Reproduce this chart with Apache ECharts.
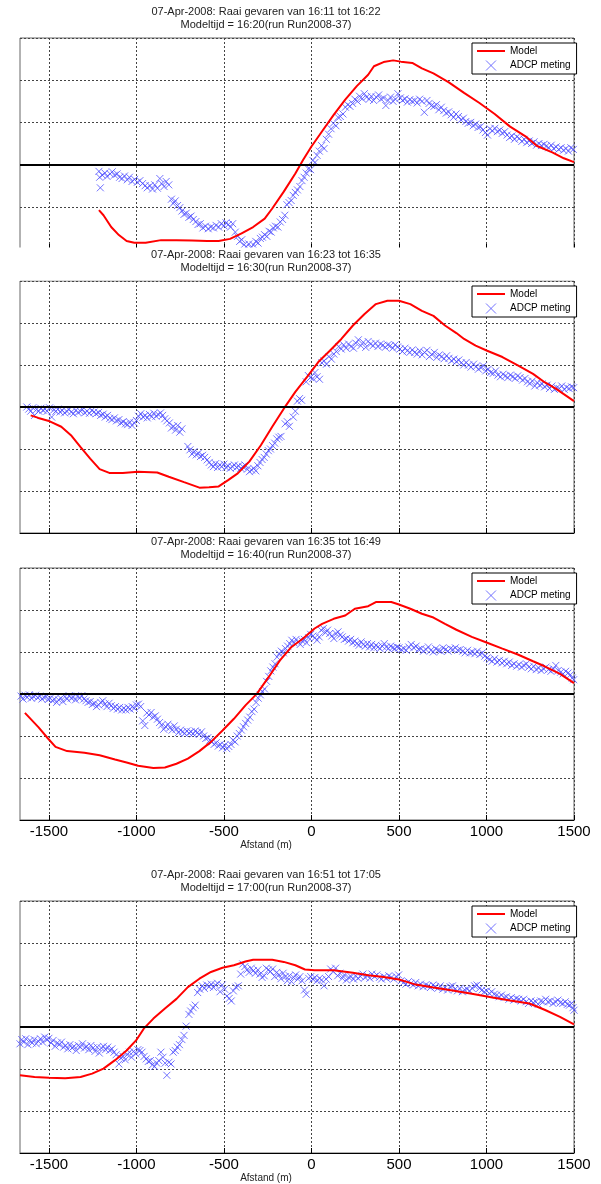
<!DOCTYPE html>
<html><head><meta charset="utf-8">
<script src="https://cdn.jsdelivr.net/npm/echarts@6/dist/echarts.min.js"></script>
<style>html,body{margin:0;padding:0;background:#fff}#c{width:601px;height:1184px}</style>
</head><body><div id="c"></div><script>
const xTicks = [-1500,-1000,-500,0,500,1000,1500];
const titleLine1 = [
  '07-Apr-2008: Raai gevaren van 16:11 tot 16:22',
  '07-Apr-2008: Raai gevaren van 16:23 tot 16:35',
  '07-Apr-2008: Raai gevaren van 16:35 tot 16:49',
  '07-Apr-2008: Raai gevaren van 16:51 tot 17:05'
];
const titleLine2 = [
  'Modeltijd = 16:20(run Run2008-37)',
  'Modeltijd = 16:30(run Run2008-37)',
  'Modeltijd = 16:40(run Run2008-37)',
  'Modeltijd = 17:00(run Run2008-37)'
];
const xLabel = 'Afstand (m)';
const legendNames = ['Model','ADCP meting'];

const model1 = [[-1214,-1.08],[-1188,-1.2],[-1144,-1.48],[-1100,-1.67],[-1056,-1.81],[-1012,-1.85],[-947,-1.85],[-859,-1.79],[-771,-1.79],[-684,-1.8],[-596,-1.81],[-530,-1.81],[-465,-1.76],[-399,-1.63],[-333,-1.48],[-267,-1.28],[-224,-1.04],[-158,-0.64],[-92,-0.21],[-48,0.11],[0,0.43],[61,0.79],[127,1.18],[193,1.54],[259,1.86],[324,2.13],[357,2.33],[412,2.43],[467,2.47],[511,2.44],[576,2.41],[631,2.28],[697,2.16],[785,1.95],[872,1.7],[960,1.46],[1047,1.2],[1135,0.9],[1223,0.67],[1289,0.44],[1376,0.29],[1442,0.15],[1500,0.06]];
const model2 = [[-1604,-0.2],[-1560,-0.26],[-1495,-0.34],[-1429,-0.47],[-1374,-0.67],[-1320,-0.95],[-1264,-1.23],[-1210,-1.48],[-1155,-1.57],[-1078,-1.57],[-991,-1.54],[-881,-1.56],[-815,-1.66],[-728,-1.79],[-640,-1.92],[-585,-1.91],[-530,-1.89],[-476,-1.74],[-421,-1.58],[-355,-1.3],[-289,-0.91],[-224,-0.47],[-158,-0.04],[-92,0.36],[-26,0.71],[39,1.07],[105,1.34],[171,1.62],[237,1.94],[302,2.21],[368,2.45],[434,2.53],[500,2.53],[565,2.45],[631,2.29],[697,2.17],[763,1.94],[828,1.76],[872,1.62],[938,1.46],[1004,1.34],[1091,1.19],[1179,0.99],[1266,0.79],[1332,0.59],[1398,0.43],[1500,0.14]];
const model3 = [[-1637,-0.45],[-1560,-0.79],[-1505,-1.06],[-1462,-1.26],[-1396,-1.36],[-1297,-1.4],[-1210,-1.46],[-1122,-1.56],[-1056,-1.63],[-990,-1.71],[-903,-1.76],[-837,-1.75],[-771,-1.66],[-706,-1.54],[-640,-1.36],[-574,-1.14],[-508,-0.87],[-443,-0.59],[-377,-0.27],[-311,0.01],[-245,0.4],[-180,0.8],[-114,1.12],[-48,1.32],[18,1.56],[61,1.67],[127,1.79],[193,1.87],[248,2.03],[324,2.09],[368,2.19],[456,2.19],[500,2.13],[565,2.03],[631,1.91],[697,1.82],[763,1.67],[828,1.53],[916,1.36],[1004,1.22],[1091,1.08],[1179,0.94],[1266,0.78],[1332,0.66],[1420,0.48],[1500,0.26]];
const model4 = [[-1665,-1.15],[-1582,-1.19],[-1499,-1.21],[-1407,-1.22],[-1319,-1.19],[-1253,-1.11],[-1188,-0.99],[-1122,-0.79],[-1056,-0.56],[-1002,-0.32],[-958,-0.04],[-903,0.2],[-837,0.44],[-771,0.67],[-706,0.95],[-640,1.15],[-574,1.31],[-508,1.41],[-443,1.47],[-377,1.56],[-333,1.6],[-224,1.6],[-158,1.55],[-92,1.47],[-37,1.37],[18,1.35],[127,1.35],[237,1.29],[324,1.23],[412,1.19],[500,1.13],[587,1.02],[697,0.94],[806,0.87],[916,0.79],[1026,0.71],[1135,0.63],[1245,0.56],[1332,0.41],[1420,0.24],[1500,0.06]];

const adcp1 = [[-1214,-0.16],[-1210,-0.3],[-1206,-0.55],[-1195,-0.25],[-1180,-0.2],[-1168,-0.28],[-1150,-0.22],[-1138,-0.17],[-1125,-0.25],[-1110,-0.22],[-1096,-0.3],[-1082,-0.33],[-1068,-0.27],[-1052,-0.36],[-1040,-0.3],[-1025,-0.4],[-1010,-0.35],[-995,-0.42],[-980,-0.38],[-965,-0.45],[-950,-0.5],[-938,-0.55],[-922,-0.5],[-908,-0.58],[-895,-0.48],[-880,-0.56],[-866,-0.33],[-855,-0.45],[-842,-0.52],[-830,-0.4],[-815,-0.48],[-800,-0.82],[-790,-0.92],[-778,-0.86],[-765,-0.97],[-752,-1.02],[-740,-1.1],[-728,-1.18],[-715,-1.15],[-700,-1.25],[-688,-1.22],[-675,-1.3],[-660,-1.35],[-648,-1.42],[-635,-1.4],[-620,-1.5],[-605,-1.46],[-590,-1.52],[-575,-1.48],[-560,-1.5],[-545,-1.44],[-530,-1.48],[-515,-1.4],[-500,-1.45],[-488,-1.38],[-475,-1.42],[-462,-1.48],[-450,-1.4],[-435,-1.6],[-422,-1.7],[-410,-1.82],[-398,-1.78],[-385,-1.9],[-372,-1.95],[-358,-1.88],[-345,-1.97],[-332,-1.9],[-318,-1.82],[-305,-1.86],[-292,-1.75],[-280,-1.72],[-268,-1.66],[-255,-1.7],[-242,-1.58],[-230,-1.6],[-218,-1.5],[-205,-1.46],[-192,-1.48],[-178,-1.36],[-165,-1.3],[-152,-1.2],[-140,-0.95],[-128,-0.9],[-116,-0.85],[-104,-0.73],[-92,-0.66],[-80,-0.6],[-66,-0.52],[-54,-0.38],[-42,-0.3],[-30,-0.2],[-18,-0.1],[-5,-0.12],[8,0.1],[20,0.05],[32,0.22],[45,0.32],[58,0.45],[72,0.38],[85,0.6],[98,0.72],[112,0.85],[125,0.98],[140,0.92],[152,1.12],[165,1.14],[180,1.2],[194,1.36],[208,1.42],[220,1.38],[235,1.45],[248,1.55],[262,1.5],[275,1.62],[290,1.56],[302,1.68],[315,1.6],[330,1.55],[342,1.62],[355,1.52],[370,1.6],[384,1.65],[398,1.55],[412,1.58],[425,1.4],[438,1.52],[452,1.6],[466,1.5],[480,1.55],[494,1.68],[508,1.58],[520,1.52],[535,1.56],[548,1.48],[562,1.54],[575,1.5],[590,1.52],[604,1.46],[618,1.55],[632,1.5],[645,1.24],[660,1.52],[672,1.45],[686,1.4],[700,1.38],[714,1.42],[728,1.3],[742,1.36],[756,1.28],[770,1.22],[784,1.25],[798,1.18],[812,1.12],[826,1.2],[840,1.14],[854,1.06],[868,1.1],[882,1.02],[896,0.98],[910,1.0],[924,0.92],[938,0.96],[952,0.88],[966,0.9],[980,0.82],[994,0.76],[1006,0.7],[1020,0.85],[1034,0.8],[1048,0.86],[1062,0.78],[1076,0.82],[1090,0.74],[1104,0.78],[1118,0.7],[1132,0.64],[1146,0.68],[1160,0.6],[1174,0.66],[1188,0.62],[1202,0.55],[1216,0.6],[1230,0.52],[1244,0.56],[1258,0.5],[1272,0.54],[1286,0.46],[1300,0.5],[1314,0.45],[1328,0.48],[1342,0.44],[1356,0.4],[1370,0.46],[1384,0.38],[1398,0.42],[1412,0.36],[1426,0.4],[1440,0.34],[1454,0.38],[1468,0.32],[1482,0.4],[1496,0.36]];
const adcp2 = [[-1626,0.0],[-1615,-0.05],[-1604,-0.1],[-1592,-0.02],[-1582,-0.2],[-1570,-0.06],[-1558,-0.1],[-1546,-0.03],[-1534,-0.08],[-1522,-0.05],[-1510,-0.1],[-1496,-0.02],[-1484,-0.24],[-1472,-0.07],[-1460,-0.1],[-1448,-0.05],[-1436,-0.12],[-1424,-0.08],[-1410,-0.14],[-1398,-0.1],[-1385,-0.06],[-1372,-0.12],[-1360,-0.16],[-1346,-0.08],[-1334,-0.13],[-1320,-0.1],[-1308,-0.06],[-1295,-0.14],[-1282,-0.1],[-1268,-0.15],[-1255,-0.08],[-1242,-0.12],[-1230,-0.16],[-1216,-0.13],[-1204,-0.2],[-1190,-0.17],[-1178,-0.24],[-1165,-0.2],[-1152,-0.27],[-1140,-0.3],[-1126,-0.26],[-1114,-0.33],[-1100,-0.3],[-1088,-0.38],[-1075,-0.35],[-1062,-0.4],[-1050,-0.42],[-1038,-0.36],[-1025,-0.44],[-1012,-0.38],[-1000,-0.32],[-988,-0.22],[-975,-0.16],[-962,-0.24],[-950,-0.2],[-938,-0.26],[-925,-0.18],[-912,-0.23],[-900,-0.15],[-888,-0.22],[-875,-0.18],[-862,-0.14],[-850,-0.2],[-838,-0.28],[-826,-0.33],[-812,-0.38],[-800,-0.5],[-788,-0.46],[-776,-0.55],[-764,-0.44],[-752,-0.6],[-740,-0.52],[-706,-0.94],[-694,-1.02],[-682,-1.12],[-670,-1.06],[-658,-1.14],[-646,-1.1],[-634,-1.18],[-622,-1.15],[-610,-1.2],[-596,-1.26],[-584,-1.32],[-572,-1.38],[-560,-1.42],[-548,-1.35],[-536,-1.44],[-524,-1.38],[-512,-1.42],[-500,-1.36],[-488,-1.44],[-476,-1.4],[-464,-1.46],[-452,-1.42],[-440,-1.38],[-428,-1.44],[-416,-1.4],[-404,-1.46],[-392,-1.42],[-380,-1.38],[-366,-1.48],[-354,-1.54],[-342,-1.5],[-330,-1.46],[-318,-1.52],[-306,-1.4],[-294,-1.32],[-282,-1.25],[-270,-1.2],[-258,-1.12],[-246,-1.04],[-234,-1.0],[-222,-0.92],[-210,-0.86],[-198,-0.76],[-186,-0.72],[-174,-0.7],[-150,-0.4],[-138,-0.35],[-126,-0.46],[-104,-0.24],[-92,-0.1],[-80,0.14],[-68,0.2],[-56,0.16],[-30,0.6],[-18,0.75],[-6,0.7],[8,0.68],[20,0.82],[32,0.72],[46,0.66],[60,1.05],[72,1.1],[86,1.02],[100,1.2],[114,1.14],[128,1.26],[142,1.32],[156,1.44],[170,1.38],[184,1.48],[198,1.4],[212,1.5],[226,1.44],[240,1.4],[254,1.52],[268,1.6],[282,1.46],[296,1.54],[310,1.42],[324,1.56],[338,1.5],[352,1.46],[366,1.52],[380,1.44],[394,1.5],[408,1.47],[422,1.42],[436,1.48],[450,1.46],[464,1.4],[478,1.48],[492,1.43],[506,1.38],[520,1.32],[534,1.4],[548,1.34],[562,1.3],[576,1.36],[590,1.3],[604,1.26],[618,1.34],[632,1.24],[646,1.3],[660,1.35],[674,1.2],[688,1.25],[702,1.3],[716,1.18],[730,1.24],[744,1.2],[758,1.15],[772,1.22],[786,1.16],[800,1.1],[814,1.14],[828,1.08],[842,1.12],[856,1.05],[870,1.0],[884,1.06],[898,1.0],[912,0.95],[926,1.02],[940,0.96],[954,0.9],[968,0.94],[982,0.98],[996,0.86],[1010,0.9],[1024,0.82],[1038,0.8],[1052,0.86],[1066,0.76],[1080,0.72],[1094,0.78],[1108,0.74],[1122,0.7],[1136,0.76],[1150,0.72],[1164,0.68],[1178,0.74],[1192,0.7],[1206,0.64],[1220,0.68],[1234,0.6],[1248,0.56],[1262,0.62],[1276,0.5],[1290,0.58],[1304,0.52],[1318,0.55],[1332,0.48],[1346,0.52],[1360,0.44],[1374,0.5],[1388,0.42],[1402,0.46],[1416,0.44],[1430,0.5],[1444,0.42],[1458,0.47],[1472,0.44],[1486,0.48],[1498,0.46]];
const adcp3 = [[-1659,-0.05],[-1648,-0.12],[-1636,-0.03],[-1624,-0.08],[-1612,-0.02],[-1600,-0.1],[-1588,-0.06],[-1576,-0.03],[-1564,-0.09],[-1552,-0.05],[-1540,-0.12],[-1528,-0.08],[-1516,-0.06],[-1504,-0.13],[-1492,-0.1],[-1480,-0.16],[-1468,-0.12],[-1456,-0.2],[-1444,-0.14],[-1432,-0.1],[-1420,-0.18],[-1408,-0.06],[-1396,-0.12],[-1384,-0.04],[-1372,-0.1],[-1360,-0.07],[-1348,-0.14],[-1336,-0.05],[-1324,-0.1],[-1312,-0.04],[-1300,-0.12],[-1288,-0.16],[-1276,-0.2],[-1264,-0.18],[-1252,-0.25],[-1240,-0.22],[-1228,-0.3],[-1216,-0.26],[-1204,-0.2],[-1192,-0.16],[-1180,-0.24],[-1168,-0.3],[-1156,-0.22],[-1144,-0.28],[-1132,-0.34],[-1120,-0.3],[-1108,-0.36],[-1096,-0.32],[-1084,-0.38],[-1072,-0.34],[-1060,-0.38],[-1048,-0.32],[-1036,-0.36],[-1024,-0.3],[-1012,-0.34],[-1000,-0.26],[-988,-0.24],[-976,-0.3],[-964,-0.64],[-952,-0.75],[-940,-0.45],[-928,-0.5],[-916,-0.44],[-904,-0.55],[-892,-0.52],[-880,-0.6],[-868,-0.68],[-856,-0.74],[-844,-0.84],[-832,-0.78],[-820,-0.72],[-808,-0.8],[-796,-0.86],[-784,-0.76],[-772,-0.84],[-760,-0.92],[-748,-0.86],[-736,-0.9],[-724,-0.94],[-712,-0.88],[-700,-0.93],[-688,-0.9],[-676,-0.95],[-664,-0.88],[-652,-0.92],[-640,-0.96],[-628,-0.9],[-616,-1.0],[-604,-1.06],[-592,-1.04],[-580,-1.1],[-568,-1.14],[-556,-1.2],[-544,-1.16],[-532,-1.24],[-520,-1.2],[-508,-1.28],[-496,-1.22],[-484,-1.3],[-472,-1.25],[-460,-1.2],[-448,-1.1],[-436,-1.14],[-424,-1.0],[-412,-0.94],[-400,-0.86],[-388,-0.78],[-376,-0.7],[-364,-0.62],[-352,-0.55],[-340,-0.42],[-328,-0.36],[-316,-0.2],[-304,-0.1],[-292,-0.02],[-280,0.06],[-268,0.12],[-256,0.3],[-244,0.42],[-232,0.55],[-220,0.64],[-208,0.72],[-196,0.88],[-184,0.96],[-172,1.02],[-160,0.98],[-148,1.08],[-136,1.14],[-124,1.2],[-112,1.28],[-100,1.22],[-88,1.3],[-76,1.24],[-64,1.18],[-52,1.26],[-40,1.3],[-28,1.22],[-16,1.34],[-4,1.42],[8,1.38],[20,1.34],[32,1.28],[44,1.36],[56,1.52],[68,1.56],[80,1.46],[92,1.52],[104,1.44],[116,1.38],[128,1.32],[140,1.44],[152,1.48],[164,1.4],[176,1.36],[188,1.3],[200,1.32],[212,1.26],[224,1.3],[236,1.22],[248,1.26],[260,1.2],[272,1.16],[284,1.24],[296,1.18],[308,1.14],[320,1.2],[332,1.12],[344,1.18],[356,1.1],[368,1.16],[380,1.12],[392,1.08],[404,1.14],[416,1.2],[428,1.12],[440,1.08],[452,1.14],[464,1.1],[476,1.08],[488,1.12],[500,1.1],[514,1.06],[528,1.08],[542,1.04],[556,1.12],[570,1.18],[584,1.1],[598,1.14],[612,1.06],[626,1.08],[640,1.02],[654,1.06],[668,1.12],[682,1.04],[696,1.0],[710,1.08],[724,1.04],[738,1.02],[752,1.1],[766,1.06],[780,1.02],[794,1.08],[808,1.06],[822,1.1],[836,1.04],[850,1.06],[864,1.02],[878,0.98],[892,1.04],[906,0.98],[920,1.0],[934,0.96],[948,1.02],[962,0.94],[976,0.98],[990,0.9],[1004,0.86],[1018,0.82],[1032,0.78],[1046,0.84],[1060,0.76],[1074,0.8],[1088,0.74],[1102,0.78],[1116,0.72],[1130,0.76],[1144,0.68],[1158,0.72],[1172,0.66],[1186,0.7],[1200,0.64],[1214,0.68],[1228,0.72],[1242,0.64],[1256,0.6],[1270,0.66],[1284,0.58],[1298,0.62],[1312,0.56],[1326,0.6],[1340,0.64],[1354,0.58],[1368,0.54],[1382,0.6],[1396,0.68],[1410,0.56],[1424,0.52],[1438,0.48],[1452,0.54],[1466,0.5],[1480,0.46],[1490,0.38],[1498,0.34]];
const adcp4 = [[-1665,-0.4],[-1655,-0.3],[-1644,-0.36],[-1632,-0.28],[-1620,-0.42],[-1608,-0.32],[-1596,-0.38],[-1584,-0.3],[-1572,-0.4],[-1560,-0.34],[-1548,-0.28],[-1536,-0.36],[-1524,-0.24],[-1512,-0.3],[-1500,-0.27],[-1488,-0.38],[-1476,-0.32],[-1464,-0.46],[-1452,-0.38],[-1440,-0.42],[-1428,-0.36],[-1416,-0.48],[-1404,-0.44],[-1392,-0.52],[-1380,-0.42],[-1368,-0.5],[-1356,-0.46],[-1344,-0.56],[-1332,-0.44],[-1320,-0.48],[-1308,-0.4],[-1296,-0.5],[-1284,-0.46],[-1272,-0.54],[-1260,-0.44],[-1248,-0.5],[-1236,-0.58],[-1224,-0.48],[-1212,-0.62],[-1200,-0.5],[-1188,-0.46],[-1176,-0.54],[-1164,-0.48],[-1152,-0.56],[-1140,-0.52],[-1128,-0.6],[-1116,-0.66],[-1100,-0.88],[-1088,-0.74],[-1076,-0.7],[-1064,-0.78],[-1052,-0.66],[-1040,-0.6],[-1028,-0.72],[-1016,-0.58],[-1004,-0.64],[-992,-0.54],[-980,-0.56],[-968,-0.6],[-956,-0.7],[-944,-0.76],[-932,-0.82],[-920,-0.8],[-908,-0.9],[-896,-0.94],[-884,-0.86],[-872,-0.8],[-860,-0.6],[-848,-0.72],[-836,-0.86],[-826,-1.15],[-814,-0.84],[-802,-0.88],[-790,-0.6],[-778,-0.56],[-766,-0.48],[-754,-0.42],[-740,-0.3],[-728,-0.2],[-716,0.02],[-700,0.3],[-690,0.38],[-676,0.46],[-664,0.52],[-650,0.82],[-638,0.9],[-624,0.98],[-612,0.92],[-598,1.0],[-584,0.96],[-572,1.02],[-560,0.94],[-548,1.0],[-536,1.04],[-522,0.84],[-510,1.0],[-496,0.9],[-482,0.74],[-470,0.68],[-458,0.62],[-446,0.86],[-432,0.95],[-418,0.98],[-404,1.26],[-392,1.5],[-380,1.44],[-368,1.36],[-356,1.3],[-344,1.4],[-332,1.34],[-320,1.28],[-306,1.36],[-294,1.26],[-282,1.18],[-270,1.22],[-258,1.4],[-246,1.36],[-234,1.32],[-222,1.38],[-210,1.2],[-198,1.3],[-186,1.24],[-174,1.15],[-162,1.28],[-150,1.2],[-138,1.1],[-126,1.22],[-114,1.08],[-102,1.18],[-90,1.24],[-78,1.14],[-66,1.2],[-54,1.1],[-40,0.88],[-30,0.78],[-16,1.16],[-4,1.2],[8,1.14],[20,1.18],[32,1.1],[46,1.16],[58,1.12],[72,0.98],[84,1.14],[98,1.2],[110,1.38],[124,1.32],[138,1.4],[150,1.22],[162,1.28],[176,1.16],[188,1.24],[200,1.12],[214,1.18],[226,1.2],[240,1.14],[252,1.22],[266,1.16],[280,1.2],[294,1.26],[306,1.18],[320,1.22],[334,1.16],[346,1.26],[360,1.2],[374,1.24],[388,1.18],[400,1.14],[414,1.2],[428,1.16],[442,1.22],[456,1.18],[470,1.14],[484,1.2],[498,1.24],[512,1.1],[526,1.06],[540,1.02],[554,1.08],[568,1.04],[582,1.0],[596,1.06],[610,0.98],[624,1.02],[638,0.96],[652,1.0],[666,0.98],[680,0.94],[694,1.0],[708,0.96],[722,0.92],[736,0.98],[750,0.9],[764,0.94],[778,0.88],[792,0.96],[806,0.98],[820,0.9],[834,0.86],[848,0.92],[862,0.84],[876,0.88],[890,0.9],[904,0.86],[918,0.92],[932,0.98],[946,1.0],[960,0.92],[974,0.88],[988,0.84],[1002,0.86],[1016,0.8],[1030,0.84],[1044,0.78],[1058,0.76],[1072,0.72],[1086,0.76],[1100,0.7],[1114,0.72],[1128,0.66],[1142,0.7],[1156,0.64],[1170,0.68],[1184,0.66],[1198,0.62],[1212,0.66],[1226,0.6],[1240,0.56],[1254,0.62],[1268,0.58],[1282,0.6],[1296,0.54],[1310,0.62],[1324,0.6],[1338,0.66],[1352,0.6],[1366,0.62],[1380,0.56],[1394,0.6],[1408,0.64],[1422,0.58],[1436,0.56],[1450,0.6],[1462,0.54],[1474,0.52],[1486,0.56],[1494,0.46],[1500,0.4]];

const models = [model1, model2, model3, model4];
const adcps = [adcp1, adcp2, adcp3, adcp4];

// layout
const FONT = '"Liberation Sans", Arial, Helvetica, sans-serif';
const tops = [38, 281, 568, 901];
const heights = [211, 252, 252, 252];
const yMins = [-2, -3, -3, -3];
const showXLabels = [false, false, true, true];
const XMIN = -1665, XMAX = 1500;
const CROSS = 'path://M0,0L10,10M10,0L0,10';
const BLUE = '#5050ff';
const GRIDDASH = {color: '#444', width: 1, type: [2, 2]};
const NOFILL = 'rgba(0,0,0,0)';

const grid = [], xAxis = [], yAxis = [], series = [], legend = [], graphic = [];
for (let i = 0; i < 4; i++) {
  grid.push({left: 20, right: 27, top: tops[i], height: heights[i], show: true,
    borderColor: '#666', borderWidth: 1, backgroundColor: '#fff'});
  xAxis.push({type: 'value', gridIndex: i, min: XMIN, max: XMAX,
    axisLine: {show: true, onZero: false, lineStyle: {color: '#000', width: 1}},
    axisTick: {show: true, inside: true, length: 5, customValues: xTicks, lineStyle: {color: '#000'}},
    axisLabel: {show: showXLabels[i], customValues: xTicks, fontSize: 15, color: '#000', fontFamily: FONT, margin: 4,
      formatter: v => String(v)},
    splitLine: {show: true, lineStyle: GRIDDASH}});
  yAxis.push({type: 'value', gridIndex: i, min: yMins[i], max: 3, interval: 1,
    axisLine: {show: false}, axisTick: {show: false}, axisLabel: {show: false},
    splitLine: {show: true, lineStyle: GRIDDASH}});
  series.push({name: legendNames[0], type: 'line', xAxisIndex: i, yAxisIndex: i, data: models[i],
    symbol: 'none', lineStyle: {color: '#ff0000', width: 2}, itemStyle: {color: NOFILL, opacity: 0},
    z: 3,
    markLine: {silent: true, symbol: ['none', 'none'], label: {show: false},
      lineStyle: {color: '#000', width: 2, type: 'solid'}, data: [{yAxis: 0}]}});
  series.push({name: legendNames[1], type: 'scatter', xAxisIndex: i, yAxisIndex: i, data: adcps[i],
    symbol: CROSS, symbolSize: 7,
    itemStyle: {color: NOFILL, borderColor: BLUE, borderWidth: 1}});
  legend.push({left: 472, top: tops[i] + 5, orient: 'vertical', itemWidth: 28, itemHeight: 10, itemGap: 4,
    padding: [3, 6, 3, 4], backgroundColor: '#fff', borderColor: '#000', borderWidth: 1, borderRadius: 0,
    selectedMode: false, textStyle: {fontSize: 10, color: '#000', fontFamily: FONT},
    data: [
      {name: legendNames[0], itemStyle: {color: NOFILL, borderWidth: 0, opacity: 0}, lineStyle: {color: '#ff0000', width: 2}},
      {name: legendNames[1], icon: CROSS, itemStyle: {color: NOFILL, borderColor: BLUE, borderWidth: 1}}
    ]});
  graphic.push({type: 'text', x: 266, y: tops[i] - 26, z: 101,
    style: {text: titleLine1[i], align: 'center', verticalAlign: 'middle', font: '11px ' + FONT, fill: '#222'}});
  graphic.push({type: 'text', x: 266, y: tops[i] - 13, z: 101,
    style: {text: titleLine2[i], align: 'center', verticalAlign: 'middle', font: '11px ' + FONT, fill: '#222'}});
  if (showXLabels[i]) {
    graphic.push({type: 'text', x: 266, y: tops[i] + heights[i] + 25, z: 101,
      style: {text: xLabel, align: 'center', verticalAlign: 'middle', font: '10px ' + FONT, fill: '#222'}});
  }
}
// clipped bottom of first panel
graphic.unshift({type: 'rect', z: 100, shape: {x: 0, y: 247.5, width: 601, height: 33}, style: {fill: '#fff'}});

const chart = echarts.init(document.getElementById('c'), null, {renderer: 'canvas'});
chart.setOption({backgroundColor: '#fff', animation: false, grid, xAxis, yAxis, series, legend, graphic});
</script></body></html>
